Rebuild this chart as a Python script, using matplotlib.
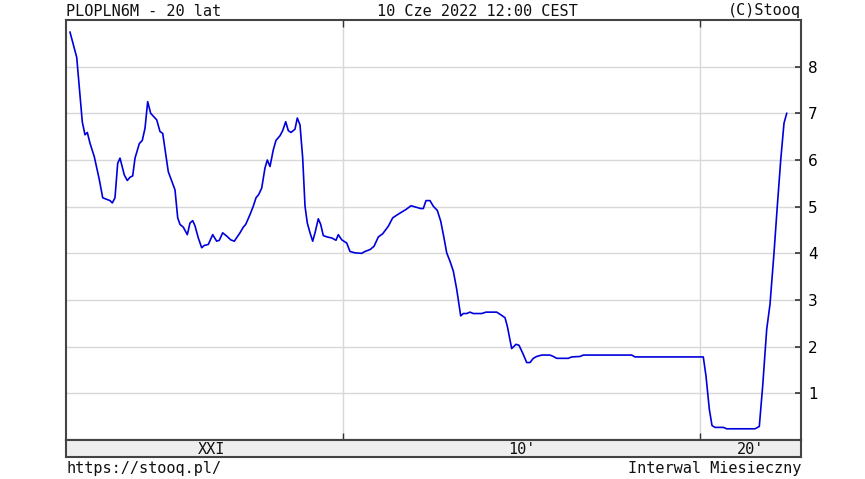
import matplotlib
matplotlib.use("Agg")
from matplotlib import pyplot as plt

# PLOPLN6M monthly (decimal year, rate %)
years = [2002.353, 2002.541, 2002.697, 2002.773, 2002.838, 2002.913, 2003.034, 2003.174,
         2003.269, 2003.473, 2003.538, 2003.613, 2003.689, 2003.754, 2003.874, 2003.958,
         2004.034, 2004.109, 2004.174, 2004.294, 2004.378, 2004.454, 2004.529, 2004.613,
         2004.782, 2004.874, 2004.950, 2005.106, 2005.294, 2005.370, 2005.434, 2005.527,
         2005.639, 2005.714, 2005.790, 2005.854, 2005.947, 2006.042, 2006.115, 2006.227,
         2006.350, 2006.462, 2006.535, 2006.630, 2006.742, 2006.854, 2006.955, 2007.115,
         2007.207, 2007.275, 2007.395, 2007.487, 2007.563, 2007.639, 2007.723, 2007.815,
         2007.880, 2007.955, 2008.048, 2008.123, 2008.235, 2008.311, 2008.395, 2008.468,
         2008.543, 2008.655, 2008.720, 2008.796, 2008.871, 2008.936, 2009.000, 2009.076,
         2009.151, 2009.216, 2009.308, 2009.375, 2009.448, 2009.560, 2009.683, 2009.804,
         2009.868, 2009.964, 2010.104, 2010.196, 2010.336, 2010.524, 2010.616, 2010.756,
         2010.868, 2010.989, 2011.112, 2011.269, 2011.392, 2011.549, 2011.765, 2011.905,
         2012.045, 2012.176, 2012.249, 2012.325, 2012.437, 2012.529, 2012.641, 2012.737,
         2012.829, 2012.905, 2012.997, 2013.090, 2013.185, 2013.297, 2013.370, 2013.465,
         2013.557, 2013.650, 2013.885, 2014.006, 2014.305, 2014.445, 2014.538, 2014.602,
         2014.725, 2014.846, 2014.930, 2015.034, 2015.146, 2015.238, 2015.331, 2015.426,
         2015.566, 2015.798, 2015.891, 2015.986, 2016.311, 2016.406, 2016.639, 2016.731,
         2018.087, 2018.179, 2020.092, 2020.168, 2020.261, 2020.336, 2020.420, 2020.653,
         2020.748, 2021.541, 2021.661, 2021.756, 2021.868, 2021.961, 2022.073, 2022.165,
         2022.261, 2022.353, 2022.429]
rates = [8.74, 8.20, 6.82, 6.54, 6.59, 6.36, 6.07, 5.58,
         5.19, 5.13, 5.08, 5.19, 5.93, 6.04, 5.68, 5.56,
         5.63, 5.66, 6.04, 6.35, 6.42, 6.68, 7.25, 7.00,
         6.86, 6.61, 6.57, 5.75, 5.36, 4.76, 4.62, 4.56,
         4.40, 4.65, 4.70, 4.59, 4.33, 4.12, 4.17, 4.19,
         4.40, 4.26, 4.28, 4.44, 4.37, 4.29, 4.26, 4.44,
         4.56, 4.62, 4.83, 5.01, 5.19, 5.26, 5.40, 5.83,
         6.00, 5.86, 6.22, 6.42, 6.52, 6.63, 6.82, 6.63,
         6.59, 6.66, 6.90, 6.75, 6.04, 5.01, 4.65, 4.44,
         4.26, 4.44, 4.74, 4.62, 4.38, 4.35, 4.33, 4.28,
         4.40, 4.29, 4.22, 4.04, 4.01, 4.00, 4.04, 4.08,
         4.15, 4.35, 4.42, 4.58, 4.76, 4.84, 4.94, 5.02,
         4.99, 4.96, 4.96, 5.13, 5.13, 5.01, 4.92, 4.69,
         4.33, 4.01, 3.83, 3.62, 3.23, 2.66, 2.71, 2.71,
         2.74, 2.71, 2.71, 2.74, 2.74, 2.67, 2.62, 2.44,
         1.96, 2.05, 2.03, 1.86, 1.66, 1.66, 1.75, 1.79,
         1.82, 1.82, 1.79, 1.75, 1.75, 1.78, 1.79, 1.82,
         1.82, 1.78, 1.78, 1.37, 0.66, 0.31, 0.27, 0.27,
         0.24, 0.24, 0.29, 1.16, 2.37, 2.91, 4.01, 5.01,
         6.00, 6.79, 7.00]

yticks = [1, 2, 3, 4, 5, 6, 7, 8]
decades = [2010, 2020]
decade_labels = ["XXI", "10'", "20'"]

x0, x1 = 2002.241, 2022.829

fig = plt.figure(figsize=(8.65, 4.79), dpi=100)
ax = fig.add_axes([66/865, 1-440/479, 735/865, 420/479])
ax.plot(years, rates, color="#0000dd", lw=1.2)
ax.set_xlim(x0, x1)
ax.set_ylim(0, 9)

for d in decades:
    ax.axvline(d, color="#d8d8d8", lw=1, zorder=0)
for v in yticks:
    ax.axhline(v, color="#d8d8d8", lw=1, zorder=0)

ax.yaxis.tick_right()
ax.set_yticks(yticks)
ax.set_yticklabels([str(v) for v in yticks], fontsize=11)
ax.tick_params(axis="y", direction="in", length=4, width=1.2, color="#333333", pad=5)
ax.set_xticks(decades)
ax.set_xticklabels([])
ax.tick_params(axis="x", direction="in", length=5, width=1, color="#333333", top=True, bottom=True)
for s in ax.spines.values():
    s.set_color("#444444")
    s.set_linewidth(1.5)

# decade band under the plot
band = fig.add_axes([66/865, 1-457/479, 735/865, 17/479])
band.set_facecolor("#eeeeee")
band.set_xlim(x0, x1)
band.set_ylim(0, 1)
band.set_xticks([])
band.set_yticks([])
for s in band.spines.values():
    s.set_color("#444444")
    s.set_linewidth(1.5)
edges = [x0 + 0.4] + decades + [x1]
for i, lab in enumerate(decade_labels):
    band.text((edges[i] + edges[i+1]) / 2, 0.45, lab, ha="center", va="center",
              fontsize=11, family="DejaVu Sans Mono", color="#111111")

mono = dict(fontsize=11, family="DejaVu Sans Mono", color="#111111")
fig.text(66/865, 1-11/479, "PLOPLN6M - 20 lat", ha="left", va="center", **mono)
fig.text(477/865, 1-11/479, "10 Cze 2022 12:00 CEST", ha="center", va="center", **mono)
fig.text(801/865, 1-11/479, "(C)Stooq", ha="right", va="center", **mono)
fig.text(66/865, 1-468/479, "https://stooq.pl/", ha="left", va="center", **mono)
fig.text(801/865, 1-468/479, "Interwal Miesieczny", ha="right", va="center", **mono)

fig.savefig("out.png", dpi=100)
